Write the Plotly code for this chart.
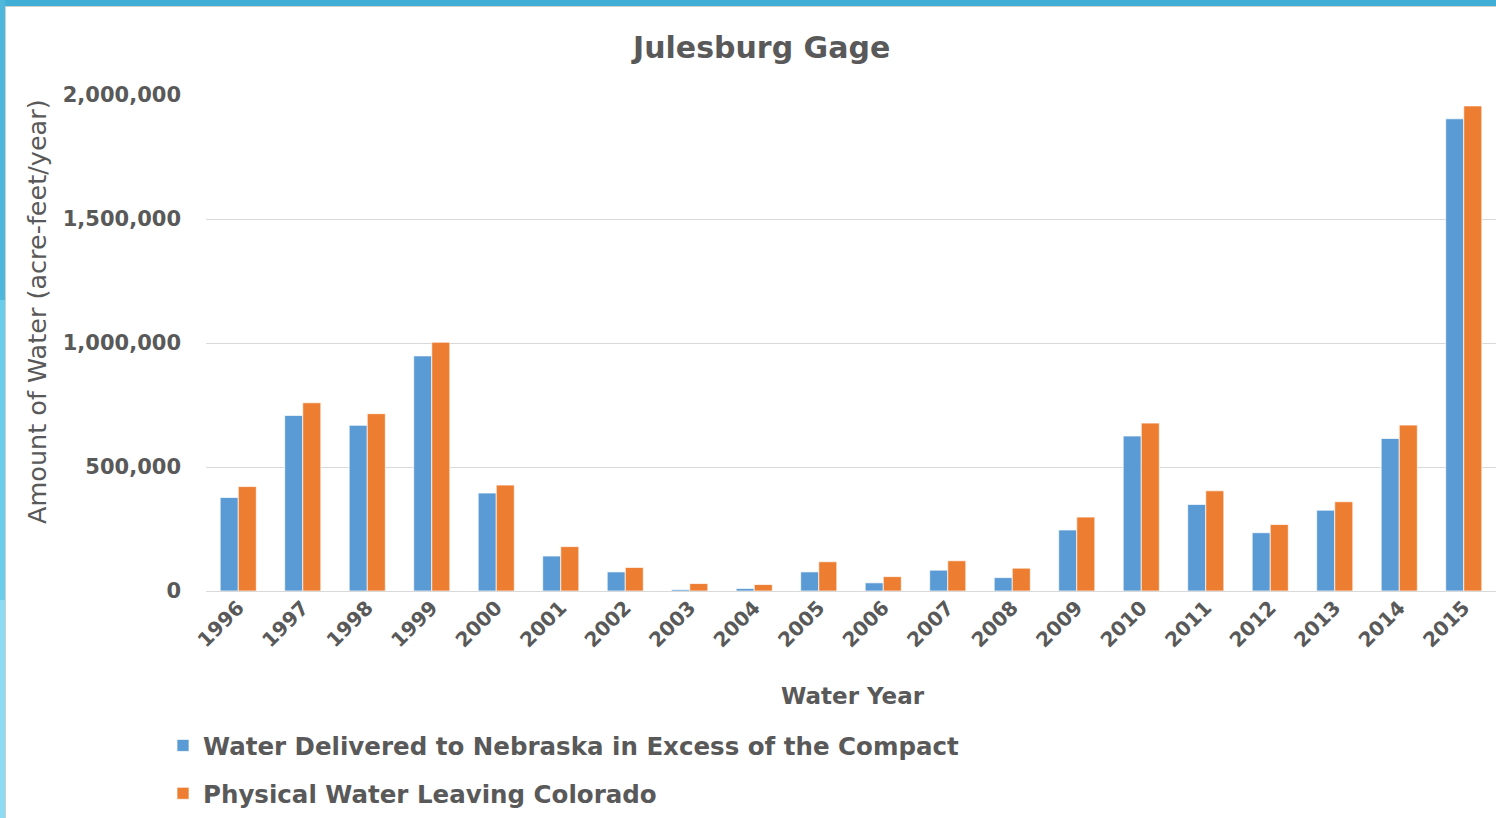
import plotly.graph_objects as go

years = [str(y) for y in range(1996, 2016)]
delivered = [377000, 708000, 668000, 948000, 395000, 141000, 77000, 6000, 10000, 77000,
             33000, 84000, 54000, 246000, 625000, 349000, 235000, 326000, 615000, 1904000]
physical = [421000, 759000, 715000, 1003000, 427000, 179000, 95000, 30000, 26000, 118000,
            58000, 122000, 92000, 298000, 677000, 404000, 268000, 360000, 669000, 1956000]
y_ticks = [0, 500000, 1000000, 1500000, 2000000]
y_ticklabels = ["0", "500,000", "1,000,000", "1,500,000", "2,000,000"]

W, H = 1496, 818
L, R, T, B = 206, 0, 95, 227
PW, PH = W - L - R, H - T - B

def px(x):
    return (x - L) / PW

def py(y):
    return (H - B - y) / PH

GRAY = "#595959"
FONT = "DejaVu Sans"

fig = go.Figure()
fig.add_trace(go.Bar(x=years, y=delivered, name="Water Delivered to Nebraska in Excess of the Compact",
                     legendgroup="a",
                     marker=dict(color="#5B9BD5", line=dict(color="rgba(255,255,255,0.7)", width=1))))
fig.add_trace(go.Bar(x=years, y=physical, name="Physical Water Leaving Colorado",
                     legendgroup="b",
                     marker=dict(color="#ED7D31", line=dict(color="rgba(255,255,255,0.7)", width=1))))

fig.update_layout(
    width=W, height=H,
    margin=dict(l=L, r=R, t=T, b=B, pad=0),
    paper_bgcolor="white", plot_bgcolor="white",
    barmode="group", bargap=0.44, bargroupgap=0,
    font=dict(family=FONT, color=GRAY),
    showlegend=True,
    legend=dict(x=px(163), y=py(723), xanchor="left", yanchor="top", orientation="v",
                font=dict(family=FONT, size=24.5, color=GRAY, weight="bold"),
                bgcolor="rgba(0,0,0,0)", tracegroupgap=13, traceorder="grouped"),
    xaxis=dict(type="category", tickangle=-45, showgrid=False, showline=False, ticks="",
               tickfont=dict(family=FONT, size=20, color=GRAY, weight="bold")),
    yaxis=dict(range=[0, 2000000], tickvals=y_ticks, ticktext=y_ticklabels,
               showgrid=True, gridcolor="#D9D9D9", gridwidth=1, zeroline=True,
               zerolinecolor="#D9D9D9", zerolinewidth=1, ticks="", ticklabelstandoff=24,
               tickfont=dict(family=FONT, size=21, color=GRAY, weight="bold")),
    annotations=[
        dict(text="Julesburg Gage", x=px(760), y=py(47), xref="paper", yref="paper",
             showarrow=False, xanchor="center", yanchor="middle",
             font=dict(family=FONT, size=30, color=GRAY, weight="bold")),
        dict(text="Water Year", x=px(853), y=py(696), xref="paper", yref="paper",
             showarrow=False, xanchor="center", yanchor="middle",
             font=dict(family=FONT, size=23, color=GRAY, weight="bold")),
        dict(text="Amount of Water (acre-feet/year)", x=px(37), y=py(312), xref="paper", yref="paper",
             showarrow=False, xanchor="center", yanchor="middle", textangle=-90,
             font=dict(family=FONT, size=25.5, color=GRAY)),
    ],
    shapes=[
        dict(type="rect", xref="paper", yref="paper", x0=px(0), x1=px(W), y0=py(0), y1=py(6),
             fillcolor="#41AED5", line=dict(width=0), layer="above"),
        dict(type="rect", xref="paper", yref="paper", x0=px(0), x1=px(5), y0=py(0), y1=py(300),
             fillcolor="#4DB8DC", line=dict(width=0), layer="above"),
        dict(type="rect", xref="paper", yref="paper", x0=px(0), x1=px(5), y0=py(300), y1=py(600),
             fillcolor="#6ACDEB", line=dict(width=0), layer="above"),
        dict(type="rect", xref="paper", yref="paper", x0=px(0), x1=px(5), y0=py(600), y1=py(H),
             fillcolor="#8DDBF4", line=dict(width=0), layer="above"),
        dict(type="line", xref="paper", yref="paper", x0=px(5), x1=px(W), y0=py(6.5), y1=py(6.5),
             line=dict(color="#CFCFCF", width=1), layer="above"),
        dict(type="line", xref="paper", yref="paper", x0=px(5.5), x1=px(5.5), y0=py(6), y1=py(H),
             line=dict(color="#CFCFCF", width=1), layer="above"),
    ],
)

fig.write_html("out.html", config={"displayModeBar": False},
               post_script="document.body.style.margin='0';document.body.style.overflow='hidden';")
